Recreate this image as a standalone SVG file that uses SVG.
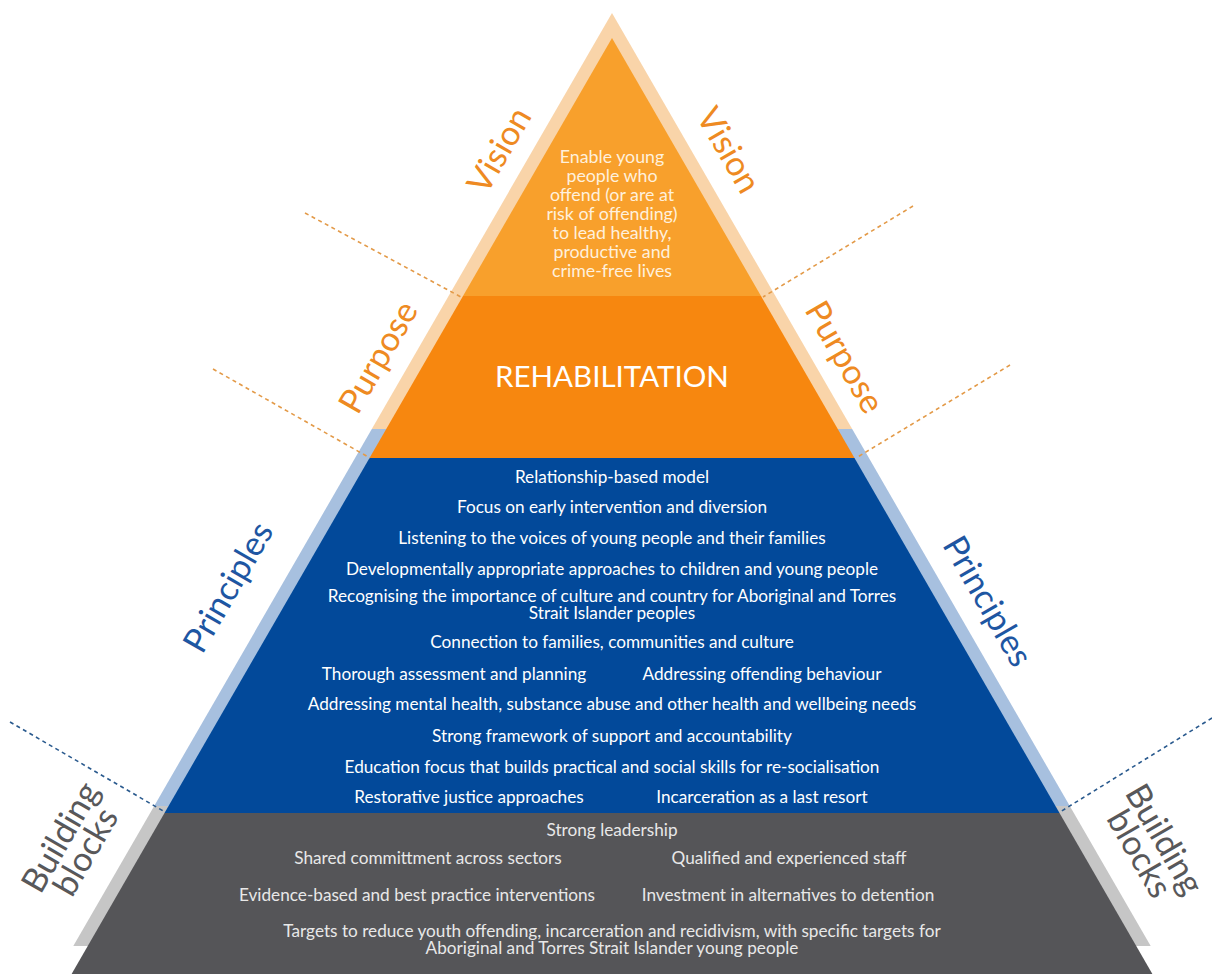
<svg xmlns="http://www.w3.org/2000/svg" width="1212" height="974" viewBox="0 0 1212 974">
<style>
.lbl{font-family:Lato,"Open Sans","Liberation Sans",sans-serif;font-size:34px;text-anchor:middle}
.or{fill:#EE8A22}.bl{fill:#1E56A2}.gr{fill:#58585A}
.t{font-family:Lato,"Open Sans","Liberation Sans",sans-serif;text-anchor:middle;fill:#ffffff}
.tv{font-size:17.8px;fill:#FFF0DC}
.tp{font-size:17.2px}
.tg{font-size:17.2px;fill:#E8E8E8}
.dash-o{stroke:#E39A48;stroke-width:1.6;stroke-dasharray:4 3.5;fill:none}
.dash-b{stroke:#2A5A8E;stroke-width:1.6;stroke-dasharray:4 3.5;fill:none}
</style>
<rect width="1212" height="974" fill="#ffffff"/>
<g id="band">
<polygon points="612,13 852.2,429 371.8,429" fill="#F9D4A9"/>
<polygon points="371.8,429 852.2,429 1069.8,806 154.2,806" fill="#A7C0DF"/>
<polygon points="154.2,806 1069.8,806 1150.7,946 73.3,946" fill="#C6C6C6"/>
</g>
<g id="vision">
<polygon points="612,38 761,296 463,296" fill="#F8A02C"/>
<text class="t tv"><tspan x="612" y="163">Enable young</tspan><tspan x="612" y="182">people who</tspan><tspan x="612" y="201">offend (or are at</tspan><tspan x="612" y="220">risk of offending)</tspan><tspan x="612" y="239">to lead healthy,</tspan><tspan x="612" y="258">productive and</tspan><tspan x="612" y="277">crime-free lives</tspan></text>
</g>
<g id="purpose">
<polygon points="463,296 761,296 854.5,458 369.5,458" fill="#F7870F"/>
<text class="t" x="612" y="387" font-size="29.5">REHABILITATION</text>
</g>
<g id="principles">
<polygon points="369.5,458 854.5,458 1059.5,813 164.5,813" fill="#02499A"/>
<g class="t tp">
<text x="612" y="483">Relationship-based model</text>
<text x="612" y="513">Focus on early intervention and diversion</text>
<text x="612" y="544">Listening to the voices of young people and their families</text>
<text x="612" y="575">Developmentally appropriate approaches to children and young people</text>
<text x="612" y="602">Recognising the importance of culture and country for Aboriginal and Torres</text>
<text x="612" y="619">Strait Islander peoples</text>
<text x="612" y="648">Connection to families, communities and culture</text>
<text x="454" y="680">Thorough assessment and planning</text>
<text x="762" y="680">Addressing offending behaviour</text>
<text x="612" y="710">Addressing mental health, substance abuse and other health and wellbeing needs</text>
<text x="612" y="742">Strong framework of support and accountability</text>
<text x="612" y="773">Education focus that builds practical and social skills for re-socialisation</text>
<text x="469" y="803">Restorative justice approaches</text>
<text x="762" y="803">Incarceration as a last resort</text>
</g>
</g>
<g id="building-blocks">
<polygon points="164.5,813 1059.5,813 1152.4,974 71.6,974" fill="#555558"/>
<g class="t tg">
<text x="612" y="836">Strong leadership</text>
<text x="428" y="864">Shared committment across sectors</text>
<text x="789" y="864">Qualified and experienced staff</text>
<text x="417" y="901">Evidence-based and best practice interventions</text>
<text x="788" y="901">Investment in alternatives to detention</text>
<text x="612" y="937">Targets to reduce youth offending, incarceration and recidivism, with specific targets for</text>
<text x="612" y="954">Aboriginal and Torres Strait Islander young people</text>
</g>
</g>
<g id="connectors">
<line class="dash-o" x1="305" y1="213" x2="461" y2="297"/>
<line class="dash-o" x1="913" y1="206" x2="763" y2="297"/>
<line class="dash-o" x1="213" y1="369" x2="370" y2="458"/>
<line class="dash-o" x1="1010" y1="365" x2="856" y2="458"/>
<line class="dash-b" x1="10" y1="722" x2="165" y2="812"/>
<line class="dash-b" x1="1212" y1="718" x2="1060" y2="812"/>
</g>
<g id="labels">
<text class="lbl or" transform="translate(499,150) rotate(-60)" dy="0.35em">Vision</text>
<text class="lbl or" transform="translate(729,150) rotate(60)" dy="0.35em">Vision</text>
<text class="lbl or" transform="translate(378,357) rotate(-60)" dy="0.35em">Purpose</text>
<text class="lbl or" transform="translate(845,357) rotate(60)" dy="0.35em">Purpose</text>
<text class="lbl bl" transform="translate(228,587) rotate(-60)" dy="0.35em">Principles</text>
<text class="lbl bl" transform="translate(988,601) rotate(60)" dy="0.35em">Principles</text>
<text class="lbl gr" transform="translate(74,845) rotate(-60)"><tspan x="0" y="-4">Building</tspan><tspan x="0" y="25">blocks</tspan></text>
<text class="lbl gr" transform="translate(1151,847) rotate(60)"><tspan x="0" y="-4">Building</tspan><tspan x="0" y="25">blocks</tspan></text>
</g>
</svg>
